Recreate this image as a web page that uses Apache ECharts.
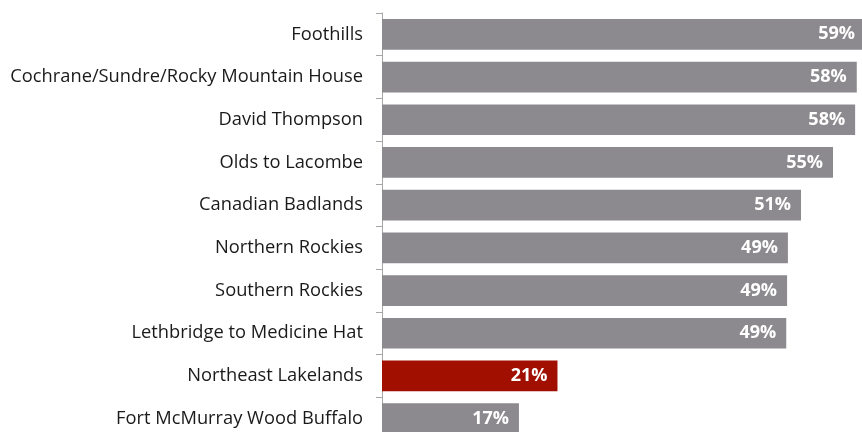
<!DOCTYPE html>
<html><head><meta charset="utf-8">
<script src="https://cdn.jsdelivr.net/npm/echarts@6/dist/echarts.min.js"></script>
<style>html,body{margin:0;padding:0;background:#fff}#c{width:862px;height:432px}</style>
</head><body><div id="c"></div>
<script>
const categories = ["Foothills","Cochrane/Sundre/Rocky Mountain House","David Thompson","Olds to Lacombe","Canadian Badlands","Northern Rockies","Southern Rockies","Lethbridge to Medicine Hat","Northeast Lakelands","Fort McMurray Wood Buffalo"];
const values = [58.9, 57.9, 57.7, 55.0, 51.1, 49.5, 49.4, 49.3, 21.4, 16.7];
const labels = ["59%","58%","58%","55%","51%","49%","49%","49%","21%","17%"];
const highlight = "Northeast Lakelands";
const grayColor = "#8C8A8E", redColor = "#A00F00";

const chart = echarts.init(document.getElementById('c'), null, {renderer:'canvas'});
chart.setOption({
  animation:false,
  grid:{left:382, width:492, top:13, height:427, containLabel:false, outerBoundsMode:'none'},
  xAxis:{type:'value', min:0, max:60, show:false},
  yAxis:{type:'category', data:categories, inverse:true,
    axisLine:{show:true, lineStyle:{color:'#A6A6A6', width:1}},
    axisTick:{show:true, length:6, lineStyle:{color:'#A6A6A6'}},
    axisLabel:{margin:19, color:'#1a1a1a', fontSize:18.3, fontFamily:'Open Sans'}
  },
  series:[{type:'bar', barCategoryGap:'28%',
    data: values.map((v,i)=>({value:v, itemStyle:{color: categories[i]===highlight?redColor:grayColor}})),
    label:{show:true, position:'insideRight', distance:10, color:'#fff', fontWeight:'bold', fontSize:18, fontFamily:'Open Sans',
      formatter:p=>labels[p.dataIndex]}
  }]
});
</script></body></html>
